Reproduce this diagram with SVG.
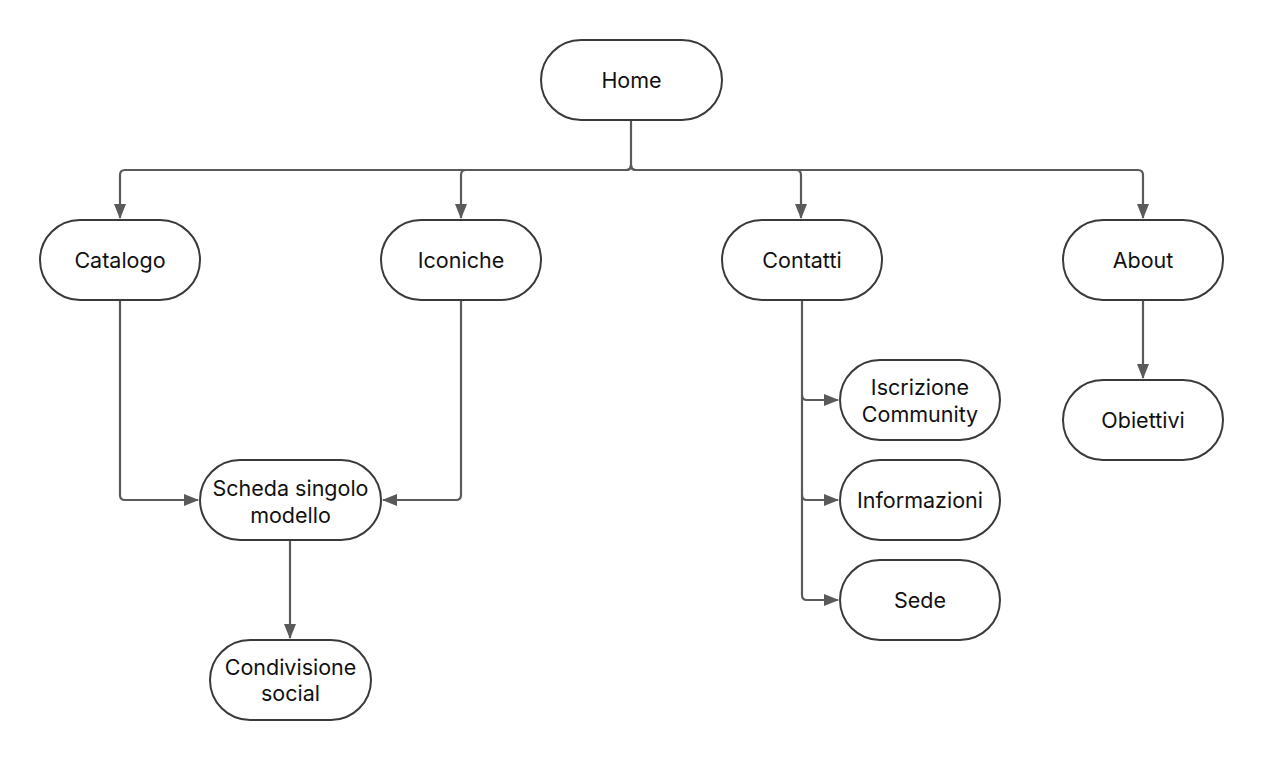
<svg xmlns="http://www.w3.org/2000/svg" width="1263" height="760" viewBox="0 0 1263 760">
<style>
.n rect{fill:#fff;stroke:#3a3a3a;stroke-width:2}
.n text{font-family:Inter,"Liberation Sans",sans-serif;font-size:21.5px;fill:#111;text-anchor:middle}
.c path{fill:none;stroke:#5a5a5a;stroke-width:2.2;stroke-linejoin:round}
</style>
<defs>
<marker id="a" markerWidth="15" markerHeight="13" refX="14" refY="6" orient="auto" markerUnits="userSpaceOnUse" viewBox="0 0 15 12">
<path d="M0,0 L15,6 L0,12 Z" fill="#5a5a5a"/>
</marker>
</defs>
<rect width="1263" height="760" fill="#fff"/>
<g class="c">
<path d="M631,121 V165 Q631,170 626,170 H125 Q120,170 120,175 V218" marker-end="url(#a)"/>
<path d="M631,165 Q631,170 626,170 H466 Q461,170 461,175 V218" marker-end="url(#a)"/>
<path d="M631,165 Q631,170 636,170 H796 Q801,170 801,175 V218" marker-end="url(#a)"/>
<path d="M631,165 Q631,170 636,170 H1138 Q1143,170 1143,175 V218" marker-end="url(#a)"/>
<path d="M120,301 V495 Q120,500 125,500 H198" marker-end="url(#a)"/>
<path d="M461,301 V495 Q461,500 456,500 H383" marker-end="url(#a)"/>
<path d="M290,541 V638" marker-end="url(#a)"/>
<path d="M1143,301 V378" marker-end="url(#a)"/>
<path d="M802,301 V395 Q802,400 807,400 H838" marker-end="url(#a)"/>
<path d="M802,395 V495 Q802,500 807,500 H838" marker-end="url(#a)"/>
<path d="M802,495 V595 Q802,600 807,600 H838" marker-end="url(#a)"/>
</g>
<g id="home" class="n"><rect x="541" y="40" width="181" height="80" rx="40"/><text x="631.5" y="88">Home</text></g>
<g id="catalogo" class="n"><rect x="40" y="220" width="160" height="80" rx="40"/><text x="120" y="268">Catalogo</text></g>
<g id="iconiche" class="n"><rect x="381" y="220" width="160" height="80" rx="40"/><text x="461" y="268">Iconiche</text></g>
<g id="contatti" class="n"><rect x="722" y="220" width="160" height="80" rx="40"/><text x="802" y="268">Contatti</text></g>
<g id="about" class="n"><rect x="1063" y="220" width="160" height="80" rx="40"/><text x="1143" y="268">About</text></g>
<g id="scheda" class="n"><rect x="200" y="460" width="181" height="80" rx="40"/><text x="290.5" y="496">Scheda singolo</text><text x="290.5" y="523">modello</text></g>
<g id="condivisione" class="n"><rect x="210" y="640" width="161" height="80" rx="40"/><text x="290.5" y="675">Condivisione</text><text x="290.5" y="701">social</text></g>
<g id="iscrizione" class="n"><rect x="840" y="360" width="160" height="80" rx="40"/><text x="920" y="395">Iscrizione</text><text x="920" y="422">Community</text></g>
<g id="informazioni" class="n"><rect x="840" y="460" width="160" height="80" rx="40"/><text x="920" y="508">Informazioni</text></g>
<g id="sede" class="n"><rect x="840" y="560" width="160" height="80" rx="40"/><text x="920" y="608">Sede</text></g>
<g id="obiettivi" class="n"><rect x="1063" y="380" width="160" height="80" rx="40"/><text x="1143" y="428">Obiettivi</text></g>
</svg>
